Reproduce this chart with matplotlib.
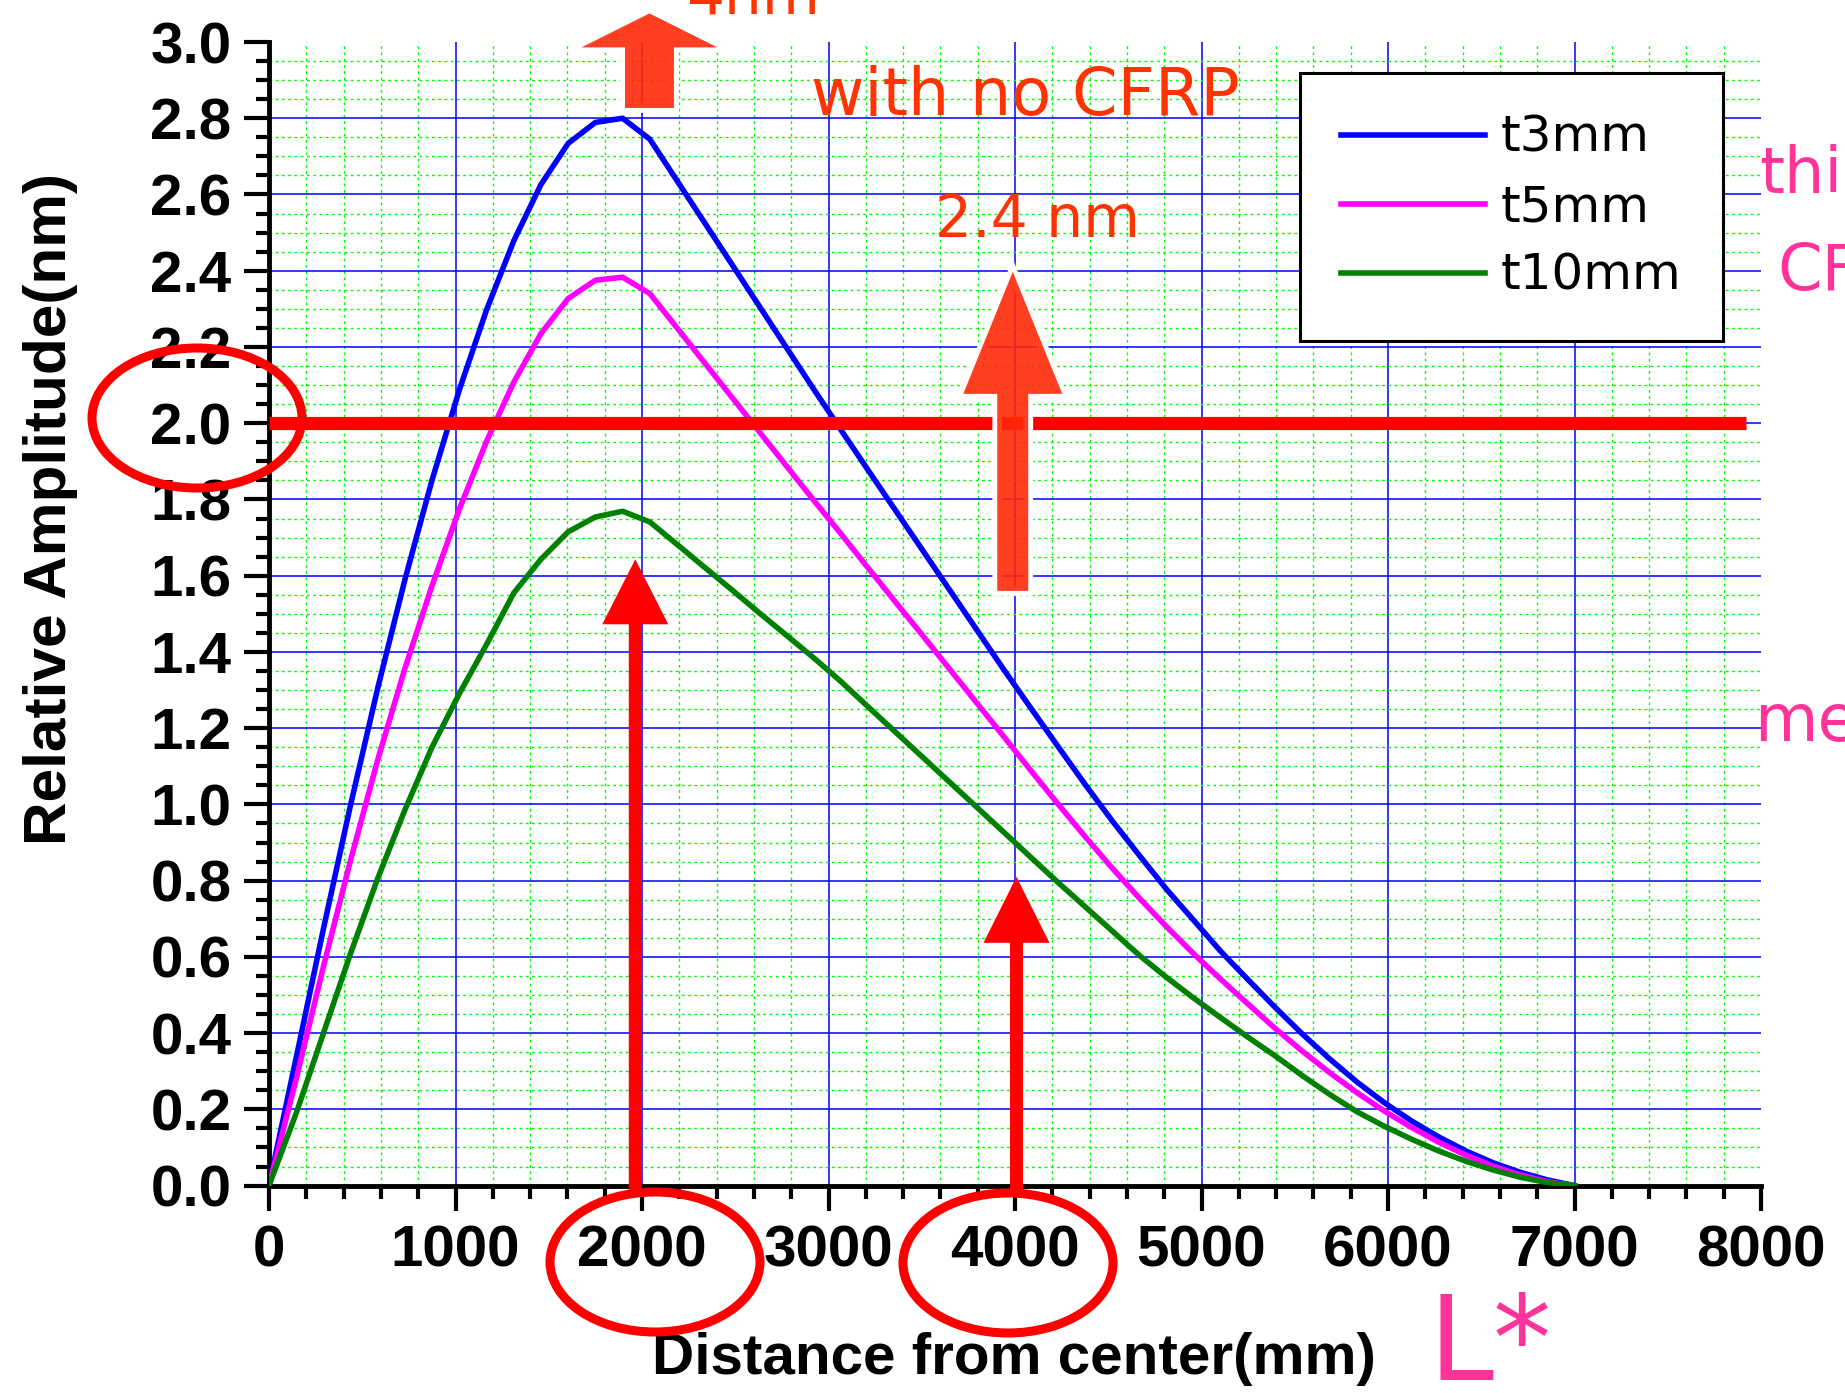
import matplotlib
matplotlib.use("Agg")
import matplotlib.pyplot as plt
from matplotlib import ticker
from matplotlib.patches import Polygon, Ellipse
from matplotlib.transforms import IdentityTransform

W, H = 1845, 1393

# sampled distances (mm) and relative amplitude (nm) for each CFRP thickness
distance_mm = [0, 146, 292, 438, 583, 729, 875, 1021, 1167, 1313, 1458, 1604,
               1750, 1896, 2042, 2188, 2333, 2479, 2625, 2771, 2917, 3063, 3208,
               3354, 3500, 3646, 3792, 3938, 4083, 4229, 4375, 4521, 4667, 4813,
               4958, 5104, 5250, 5396, 5542, 5688, 5833, 5979, 6125, 6271, 6417,
               6563, 6708, 6854, 7000]
t3mm = [0.0, 0.336, 0.674, 1.000, 1.305, 1.590, 1.852, 2.088, 2.298, 2.479,
        2.626, 2.734, 2.789, 2.800, 2.745, 2.636, 2.528, 2.419, 2.310, 2.201,
        2.092, 1.985, 1.880, 1.775, 1.670, 1.565, 1.460, 1.355, 1.254, 1.153,
        1.053, 0.957, 0.866, 0.777, 0.696, 0.614, 0.540, 0.467, 0.397, 0.332,
        0.272, 0.218, 0.170, 0.128, 0.091, 0.060, 0.035, 0.015, 0.0]
t5mm = [0.0, 0.280, 0.575, 0.855, 1.117, 1.357, 1.575, 1.775, 1.953, 2.108,
        2.235, 2.327, 2.375, 2.383, 2.340, 2.250, 2.160, 2.070, 1.980, 1.890,
        1.800, 1.712, 1.623, 1.534, 1.446, 1.357, 1.268, 1.179, 1.090, 1.002,
        0.916, 0.833, 0.754, 0.679, 0.608, 0.541, 0.476, 0.412, 0.352, 0.296,
        0.244, 0.196, 0.153, 0.114, 0.080, 0.051, 0.028, 0.010, 0.0]
t10mm = [0.0, 0.190, 0.400, 0.610, 0.806, 0.986, 1.151, 1.291, 1.420, 1.555,
         1.643, 1.715, 1.754, 1.769, 1.741, 1.682, 1.623, 1.564, 1.504, 1.445,
         1.386, 1.324, 1.258, 1.192, 1.126, 1.060, 0.994, 0.928, 0.862, 0.796,
         0.732, 0.668, 0.604, 0.546, 0.492, 0.440, 0.389, 0.340, 0.288, 0.239,
         0.194, 0.156, 0.122, 0.091, 0.064, 0.041, 0.022, 0.008, 0.0]

series = [("t3mm", t3mm, "#0000ff"),
          ("t5mm", t5mm, "#ff00ff"),
          ("t10mm", t10mm, "#008000")]

x_ticks = [0, 1000, 2000, 3000, 4000, 5000, 6000, 7000, 8000]
y_ticks = [0.0, 0.2, 0.4, 0.6, 0.8, 1.0, 1.2, 1.4, 1.6, 1.8, 2.0, 2.2, 2.4,
           2.6, 2.8, 3.0]
threshold_nm = 2.0

ANNOT = "#ff3300"
PINK = "#ff3399"
BOLD = dict(family="Liberation Sans", fontweight="bold")

fig = plt.figure(figsize=(W / 100, H / 100), dpi=100)
ax = fig.add_axes([269 / W, 1 - 1185.6 / H, 1492 / W, 1143.6 / H])

for label, values, color in series:
    ax.plot(distance_mm, values, color=color, lw=4.0, label=label, zorder=3)

ax.set_xlim(0, 8000)
ax.set_ylim(0, 3.0)
ax.set_xticks(x_ticks, labels=[str(v) for v in x_ticks], fontsize=42, **BOLD)
ax.set_yticks(y_ticks, labels=[f"{v:.1f}" for v in y_ticks], fontsize=42, **BOLD)
ax.xaxis.set_minor_locator(ticker.MultipleLocator(200))
ax.yaxis.set_minor_locator(ticker.MultipleLocator(0.05))

ax.grid(which="minor", color="#00ff00", lw=1.0, ls=(0, (2, 2.5)))
ax.grid(which="major", color="#0000ff", lw=1.1)
ax.set_axisbelow(True)
ax.xaxis.get_major_ticks()[-1].gridline.set_visible(False)
ax.yaxis.get_major_ticks()[-1].gridline.set_visible(False)

for side in ("top", "right"):
    ax.spines[side].set_visible(False)
for side in ("left", "bottom"):
    ax.spines[side].set_linewidth(3.5)

ax.tick_params(which="major", direction="out", length=18, width=3)
ax.tick_params(which="minor", direction="out", length=9.4, width=3)
ax.tick_params(axis="x", which="major", pad=10)
ax.tick_params(axis="y", which="major", pad=9)

ax.set_xlabel("Distance from center(mm)", fontsize=42, va="baseline", **BOLD)
ax.xaxis.set_label_coords(0.4993, -0.1647)
ax.set_ylabel("Relative Amplitude(nm)", fontsize=43.5, va="baseline",
              ha="center", rotation_mode="anchor", **BOLD)
ax.yaxis.set_label_coords(-0.136, 0.5917)

ax.axhline(threshold_nm, xmin=0, xmax=7920 / 8000, color="#ff0000", lw=9.5,
           solid_capstyle="butt", zorder=5)

leg = ax.legend(loc="upper left", bbox_to_anchor=(1300 / W, 1 - 73 / H),
                bbox_transform=fig.transFigure,
                prop={"family": "DejaVu Sans", "size": 36},
                frameon=True, fancybox=False, framealpha=1, edgecolor="black",
                borderpad=0.82, handlelength=2.87, handletextpad=0.33,
                labelspacing=0.42, borderaxespad=0)
leg.get_frame().set_linewidth(2.2)


def fig_text(x_px, y_px, s, **kw):
    fig.text(x_px / W, 1 - y_px / H, s, ha="left", va="baseline",
             family="DejaVu Sans", **kw)


def up_arrow(x, y_tail, y_tip, shaft, head, head_len, face, halo=False):
    X, Y0 = ax.transData.transform((x, y_tail))
    _, Y1 = ax.transData.transform((x, y_tip))
    Yb = Y1 - head_len
    verts = [(X - shaft / 2, Y0), (X + shaft / 2, Y0), (X + shaft / 2, Yb),
             (X + head / 2, Yb), (X, Y1), (X - head / 2, Yb),
             (X - shaft / 2, Yb)]
    if halo:
        fig.add_artist(Polygon(verts, closed=True, transform=IdentityTransform(),
                               facecolor="none", edgecolor="white", lw=7,
                               joinstyle="miter", zorder=2))
    fig.add_artist(Polygon(verts, closed=True, transform=IdentityTransform(),
                           facecolor=face, edgecolor="none", zorder=3))


def ring(cx, cy):
    fig.add_artist(Ellipse((cx, H - cy), 210, 140, transform=IdentityTransform(),
                           fill=False, edgecolor="#ff0000", lw=6.5, zorder=4))


orange = (1.0, 0.16, 0.04, 0.9)
up_arrow(2040, 2.827, 3.075, 49, 136, 34, orange, halo=True)
up_arrow(3988, 1.56, 2.397, 31, 99, 122, orange, halo=True)
up_arrow(1964, -0.015, 1.643, 13, 66, 65, "#ff0000")
up_arrow(4008, -0.015, 0.81, 13, 66, 66, "#ff0000")

ring(197, 418)
ring(655, 1262)
ring(1008, 1263)

fig_text(686, 13, "4nm", fontsize=43, color=ANNOT)
fig_text(811, 115, "with no CFRP", fontsize=47, color=ANNOT)
fig_text(935, 237, "2.4 nm", fontsize=42, color=ANNOT)
fig_text(1759, 193, "thi", fontsize=46, color=PINK)
fig_text(1777, 290, "CF", fontsize=46, color=PINK)
fig_text(1754, 741, "me", fontsize=47, color=PINK)
fig_text(1429, 1380, "L*", fontsize=84, color=PINK)

fig.savefig("out.png", dpi=100)
